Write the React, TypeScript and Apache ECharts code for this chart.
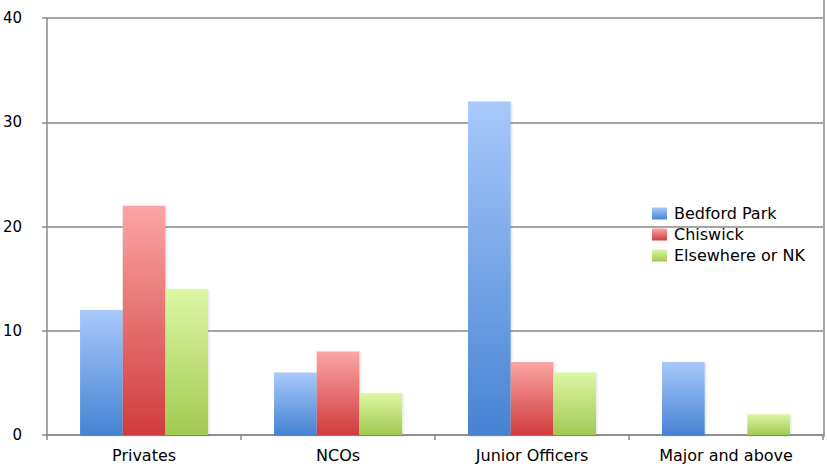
import React, { useEffect, useRef } from "react";
import * as echarts from "echarts";

const categories = ["Privates", "NCOs", "Junior Officers", "Major and above"];
const seriesNames = ["Bedford Park", "Chiswick", "Elsewhere or NK"];
const bedfordPark = [12, 6, 32, 7];
const chiswick = [22, 8, 7, 0];
const elsewhere = [14, 4, 6, 2];
const yTicks = [0, 10, 20, 30, 40];

const grad = (top: string, bottom: string) =>
  new echarts.graphic.LinearGradient(0, 0, 0, 1, [
    { offset: 0, color: top },
    { offset: 1, color: bottom },
  ]);

export default function App() {
  const ref = useRef<HTMLDivElement>(null);
  useEffect(() => {
    if (!ref.current) return;
    const chart = echarts.init(ref.current, undefined, { renderer: "svg" });
    const colors = [
      ["#a8c9fb", "#4683d3"],
      ["#fba5a5", "#d03c3c"],
      ["#ddf7a4", "#a1c952"],
    ];
    const data = [bedfordPark, chiswick, elsewhere];
    const font = "'DejaVu Sans', sans-serif";
    chart.setOption({
      animation: false,
      grid: { left: 45, right: 4, top: 18, bottom: 31, containLabel: false },
      graphic: [
        {
          type: "line",
          shape: { x1: 824, y1: 0, x2: 824, y2: 437 },
          style: { stroke: "#888", lineWidth: 1.5 },
        },
      ],
      legend: {
        orient: "vertical",
        left: 647,
        top: 198,
        itemWidth: 15,
        itemHeight: 12,
        itemGap: 0,
        icon: "rect",
        textStyle: {
          fontFamily: font,
          fontSize: 16,
          lineHeight: 21,
          color: "#000",
          padding: [0, 0, 0, 2],
        },
        data: seriesNames,
      },
      xAxis: {
        type: "category",
        data: categories,
        axisLine: { lineStyle: { color: "#888", width: 1.5 } },
        axisTick: { show: true, length: 5, lineStyle: { color: "#888", width: 1.5 } },
        axisLabel: { fontFamily: font, fontSize: 16, color: "#000", margin: 12 },
      },
      yAxis: {
        type: "value",
        min: yTicks[0],
        max: yTicks[yTicks.length - 1],
        interval: 10,
        axisLine: { show: true, lineStyle: { color: "#888", width: 1.5 } },
        axisTick: { show: true, length: 5, lineStyle: { color: "#888", width: 1.5 } },
        splitLine: { show: true, lineStyle: { color: "#888", width: 1.5 } },
        axisLabel: { fontFamily: font, fontSize: 15, color: "#000", margin: 25 },
      },
      series: seriesNames.map((name, i) => ({
        name,
        type: "bar",
        data: data[i],
        barGap: "0%",
        barCategoryGap: "34%",
        itemStyle: {
          color: grad(colors[i][0], colors[i][1]),
          shadowColor: "rgba(0,0,0,0.15)",
          shadowBlur: 2,
          shadowOffsetX: 1,
          shadowOffsetY: 1,
        },
      })),
    });
    return () => chart.dispose();
  }, []);
  return (
    <div
      ref={ref}
      style={{ position: "absolute", left: 0, top: 0, width: 827, height: 466 }}
    />
  );
}
